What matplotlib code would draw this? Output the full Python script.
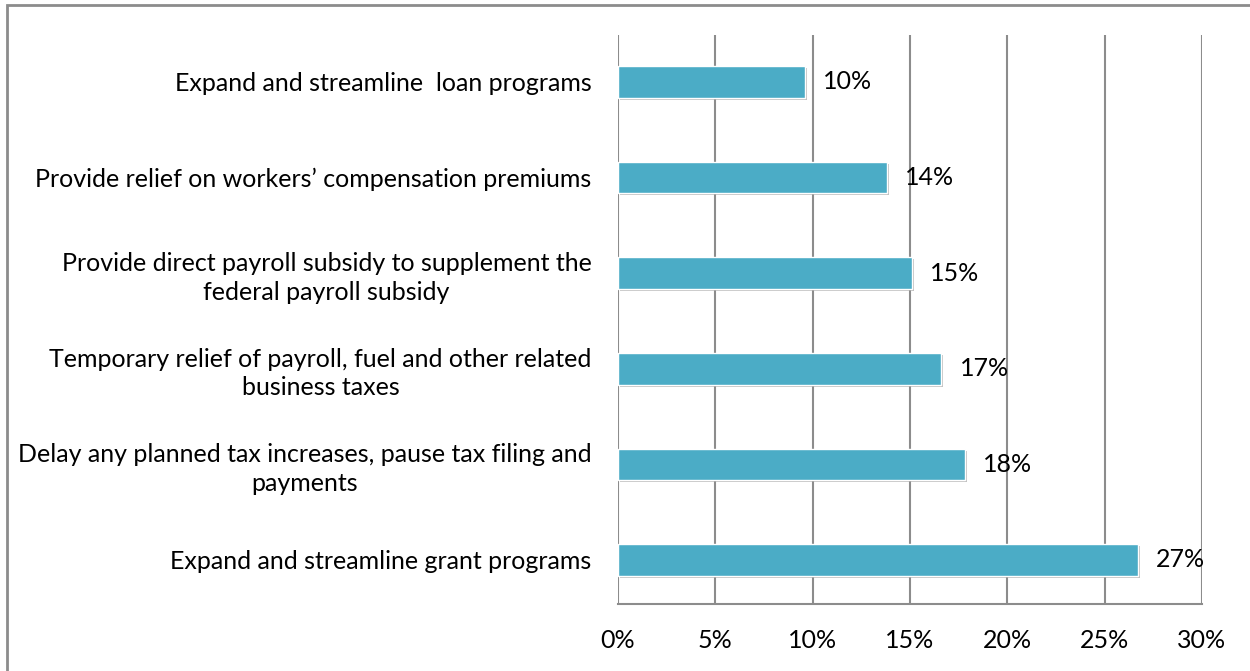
import matplotlib.pyplot as plt
import matplotlib.patheffects as pe
from matplotlib.patches import Rectangle

categories = [
    "Expand and streamline grant programs",
    "Delay any planned tax increases, pause tax filing and\npayments",
    "Temporary relief of payroll, fuel and other related\nbusiness taxes",
    "Provide direct payroll subsidy to supplement the\nfederal payroll subsidy",
    "Provide relief on workers\u2019 compensation premiums",
    "Expand and streamline  loan programs",
]
values = [26.7, 17.8, 16.6, 15.1, 13.8, 9.6]
xticks = [0, 5, 10, 15, 20, 25, 30]

plt.rcParams['font.family'] = ['Lato', 'DejaVu Sans']

fig = plt.figure(figsize=(12.5, 6.71), dpi=100)
ax = fig.add_axes([0.4944, 0.0999, 0.4672, 0.8479])

bar_color = '#4BACC6'
shadow = [pe.SimplePatchShadow(offset=(1.5, -1.5), shadow_rgbFace='#999999', alpha=0.6), pe.Normal()]
ypos = list(range(len(categories)))
bars = ax.barh(ypos, values, height=0.33, color=bar_color, edgecolor='white', linewidth=1, zorder=3)
for b in bars:
    b.set_path_effects(shadow)

for y, v in zip(ypos, values):
    ax.text(v + 0.95, y, f"{round(v)}%", va='center', ha='left', fontsize=18, zorder=4)

ax.set_xlim(0, 30)
ax.set_ylim(-0.46, 5.49)
ax.set_xticks(xticks)
ax.set_xticklabels([f"{t}%" for t in xticks], fontsize=18)
ax.set_yticks(ypos)
ax.set_yticklabels(categories, fontsize=18, multialignment='center', linespacing=1.3)
ax.tick_params(axis='x', length=0, pad=18)
ax.tick_params(axis='y', length=0, pad=19)

ax.grid(axis='x', color='#8c8c8c', linewidth=1.5, zorder=0)
for s in ['top', 'left', 'right']:
    ax.spines[s].set_visible(False)
ax.spines['bottom'].set_color('#8c8c8c')
ax.spines['bottom'].set_linewidth(1.5)

# outer chart frame (extends past the bottom/right of the image)
fig.patches.append(Rectangle((7 / 1250, -0.1), 1.2, 1 - 5 / 671 + 0.1, transform=fig.transFigure,
                             fill=False, edgecolor='#8c8c8c', linewidth=2, zorder=0))

fig.savefig('out.png', dpi=100)
